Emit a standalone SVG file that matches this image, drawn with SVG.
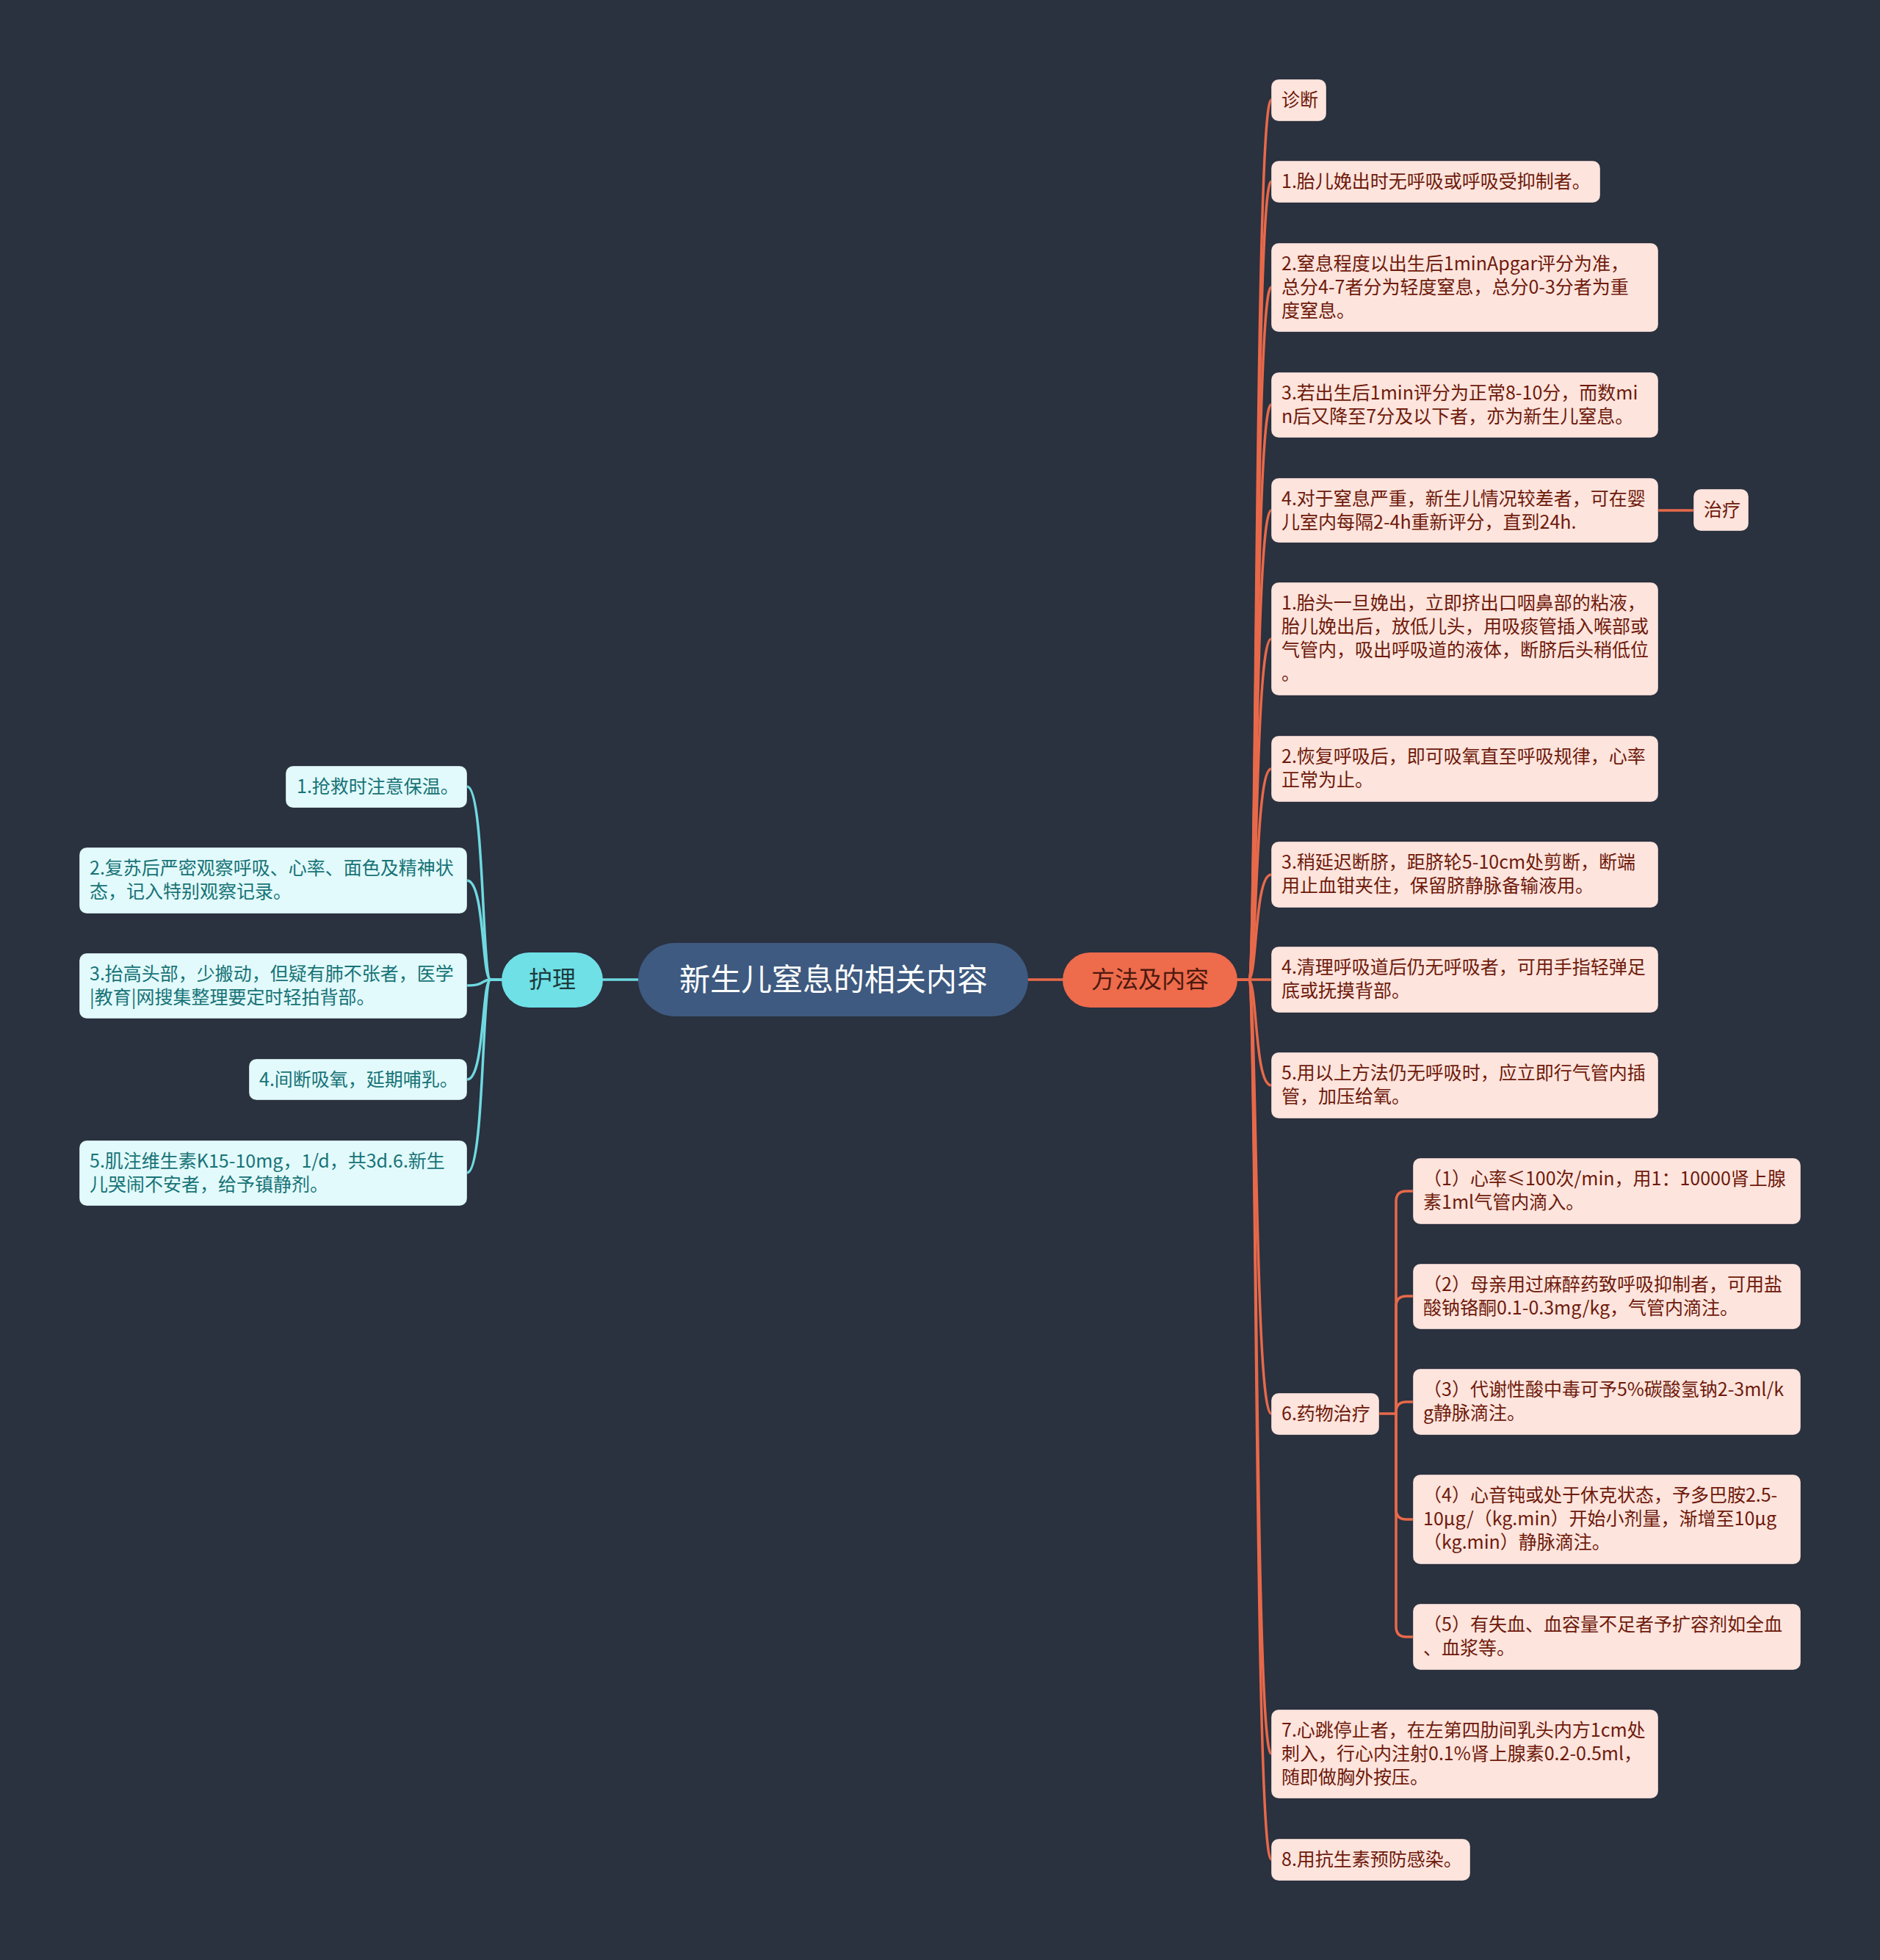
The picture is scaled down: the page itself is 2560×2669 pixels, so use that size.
<svg xmlns="http://www.w3.org/2000/svg" width="2560" height="2669" viewBox="0 0 2560 2669">
<style>
text{font-family:"Noto Sans CJK SC","Noto Sans",sans-serif;}
.rb{fill:#fde4dd;stroke:#1d2430;stroke-opacity:0.35;stroke-width:1}
.rt{fill:#6e1a0b;font-size:25px}
.lb{fill:#e2fafb;stroke:#1d2430;stroke-opacity:0.35;stroke-width:1}
.lt{fill:#177377;font-size:25px}
.oc{fill:none;stroke:#e8694a;stroke-width:3.5;stroke-linecap:round}
.cc{fill:none;stroke:#6fd9e0;stroke-width:3.5;stroke-linecap:round}
</style>
<rect width="2560" height="2669" fill="#2a313f"/>
<g id="connectors">
<line class="cc" x1="821" y1="1334" x2="869" y2="1334"/>
<line class="oc" x1="1400" y1="1334" x2="1447" y2="1334"/>
<path class="cc" d="M683 1334 L668 1334 C656 1334 660 1071 636 1071"/>
<path class="cc" d="M683 1334 L668 1334 C656 1334 660 1199 636 1199"/>
<path class="cc" d="M683 1334 L668 1334 C656 1334 660 1342 636 1342"/>
<path class="cc" d="M683 1334 L668 1334 C656 1334 660 1470 636 1470"/>
<path class="cc" d="M683 1334 L668 1334 C656 1334 660 1597 636 1597"/>
<path class="oc" d="M1685 1334 L1700 1334 C1712 1334 1708 136 1731 136"/>
<path class="oc" d="M1685 1334 L1700 1334 C1712 1334 1708 247 1731 247"/>
<path class="oc" d="M1685 1334 L1700 1334 C1712 1334 1708 391 1731 391"/>
<path class="oc" d="M1685 1334 L1700 1334 C1712 1334 1708 551 1731 551"/>
<path class="oc" d="M1685 1334 L1700 1334 C1712 1334 1708 695 1731 695"/>
<path class="oc" d="M1685 1334 L1700 1334 C1712 1334 1708 870 1731 870"/>
<path class="oc" d="M1685 1334 L1700 1334 C1712 1334 1708 1047 1731 1047"/>
<path class="oc" d="M1685 1334 L1700 1334 C1712 1334 1708 1191 1731 1191"/>
<path class="oc" d="M1685 1334 L1731 1334"/>
<path class="oc" d="M1685 1334 L1700 1334 C1712 1334 1708 1478 1731 1478"/>
<path class="oc" d="M1685 1334 L1700 1334 C1712 1334 1708 1925 1731 1925"/>
<path class="oc" d="M1685 1334 L1700 1334 C1712 1334 1708 2388 1731 2388"/>
<path class="oc" d="M1685 1334 L1700 1334 C1712 1334 1708 2532 1731 2532"/>
<line class="oc" x1="2258" y1="695" x2="2306" y2="695"/>
<path class="oc" d="M1878 1925 L1901 1925"/>
<path class="oc" d="M1901 1925 L1901 1636 Q1901 1622 1915 1622 L1924 1622"/>
<path class="oc" d="M1901 1925 L1901 1779 Q1901 1765 1915 1765 L1924 1765"/>
<path class="oc" d="M1901 1925 L1901 1923 Q1901 1909 1915 1909 L1924 1909"/>
<path class="oc" d="M1901 1925 L1901 2055 Q1901 2069 1915 2069 L1924 2069"/>
<path class="oc" d="M1901 1925 L1901 2215 Q1901 2229 1915 2229 L1924 2229"/>
</g>
<g id="root">
<rect x="869" y="1284" width="531" height="100" rx="50" fill="#3e5a80"/>
<text x="1135" y="1349" font-size="42" fill="#ffffff" text-anchor="middle">新生儿窒息的相关内容</text>
</g>
<g id="huli">
<rect x="683" y="1297" width="138" height="75" rx="37.5" fill="#6fe0e6"/>
<text x="752" y="1345" font-size="32" fill="#1d3a3d" text-anchor="middle">护理</text>
</g>
<g id="fangfa">
<rect x="1447" y="1297" width="238" height="75" rx="37.5" fill="#ee6b4c"/>
<text x="1566" y="1345" font-size="32" fill="#4a190e" text-anchor="middle">方法及内容</text>
</g>
<g id="l1"><rect class="lb" x="389" y="1043" width="247" height="57" rx="10"/><text class="lt" x="404" y="1080">1.抢救时注意保温。</text></g>
<g id="l2"><rect class="lb" x="108" y="1154" width="528" height="90" rx="10"/><text class="lt" x="122" y="1191">2.复苏后严密观察呼吸、心率、面色及精神状</text><text class="lt" x="122" y="1223">态，记入特别观察记录。</text></g>
<g id="l3"><rect class="lb" x="108" y="1298" width="528" height="89" rx="10"/><text class="lt" x="122" y="1335">3.抬高头部，少搬动，但疑有肺不张者，医学</text><text class="lt" x="122" y="1367">|教育|网搜集整理要定时轻拍背部。</text></g>
<g id="l4"><rect class="lb" x="339" y="1442" width="297" height="56" rx="10"/><text class="lt" x="353" y="1479">4.间断吸氧，延期哺乳。</text></g>
<g id="l5"><rect class="lb" x="108" y="1553" width="528" height="89" rx="10"/><text class="lt" x="122" y="1590">5.肌注维生素K15-10mg，1/d，共3d.6.新生</text><text class="lt" x="122" y="1622">儿哭闹不安者，给予镇静剂。</text></g>
<g id="zhenduan"><rect class="rb" x="1731" y="108" width="75" height="57" rx="10"/><text class="rt" x="1745" y="145">诊断</text></g>
<g id="d1"><rect class="rb" x="1731" y="219" width="448" height="57" rx="10"/><text class="rt" x="1745" y="256">1.胎儿娩出时无呼吸或呼吸受抑制者。</text></g>
<g id="d2"><rect class="rb" x="1731" y="331" width="527" height="121" rx="10"/><text class="rt" x="1745" y="368">2.窒息程度以出生后1minApgar评分为准，</text><text class="rt" x="1745" y="400">总分4-7者分为轻度窒息，总分0-3分者为重</text><text class="rt" x="1745" y="432">度窒息。</text></g>
<g id="d3"><rect class="rb" x="1731" y="507" width="527" height="89" rx="10"/><text class="rt" x="1745" y="544">3.若出生后1min评分为正常8-10分，而数mi</text><text class="rt" x="1745" y="576">n后又降至7分及以下者，亦为新生儿窒息。</text></g>
<g id="d4"><rect class="rb" x="1731" y="651" width="527" height="88" rx="10"/><text class="rt" x="1745" y="688">4.对于窒息严重，新生儿情况较差者，可在婴</text><text class="rt" x="1745" y="720">儿室内每隔2-4h重新评分，直到24h.</text></g>
<g id="zhiliao"><rect class="rb" x="2306" y="666" width="75" height="57" rx="10"/><text class="rt" x="2320" y="703">治疗</text></g>
<g id="t1"><rect class="rb" x="1731" y="793" width="527" height="154" rx="10"/><text class="rt" x="1745" y="830">1.胎头一旦娩出，立即挤出口咽鼻部的粘液，</text><text class="rt" x="1745" y="862">胎儿娩出后，放低儿头，用吸痰管插入喉部或</text><text class="rt" x="1745" y="894">气管内，吸出呼吸道的液体，断脐后头稍低位</text><text class="rt" x="1745" y="926">。</text></g>
<g id="t2"><rect class="rb" x="1731" y="1002" width="527" height="90" rx="10"/><text class="rt" x="1745" y="1039">2.恢复呼吸后，即可吸氧直至呼吸规律，心率</text><text class="rt" x="1745" y="1071">正常为止。</text></g>
<g id="t3"><rect class="rb" x="1731" y="1146" width="527" height="90" rx="10"/><text class="rt" x="1745" y="1183">3.稍延迟断脐，距脐轮5-10cm处剪断，断端</text><text class="rt" x="1745" y="1215">用止血钳夹住，保留脐静脉备输液用。</text></g>
<g id="t4"><rect class="rb" x="1731" y="1289" width="527" height="90" rx="10"/><text class="rt" x="1745" y="1326">4.清理呼吸道后仍无呼吸者，可用手指轻弹足</text><text class="rt" x="1745" y="1358">底或抚摸背部。</text></g>
<g id="t5"><rect class="rb" x="1731" y="1433" width="527" height="90" rx="10"/><text class="rt" x="1745" y="1470">5.用以上方法仍无呼吸时，应立即行气管内插</text><text class="rt" x="1745" y="1502">管，加压给氧。</text></g>
<g id="t6"><rect class="rb" x="1731" y="1897" width="147" height="57" rx="10"/><text class="rt" x="1745" y="1934">6.药物治疗</text></g>
<g id="s1"><rect class="rb" x="1924" y="1577" width="528" height="90" rx="10"/><text class="rt" x="1938" y="1614">（1）心率≤100次/min，用1：10000肾上腺</text><text class="rt" x="1938" y="1646">素1ml气管内滴入。</text></g>
<g id="s2"><rect class="rb" x="1924" y="1721" width="528" height="89" rx="10"/><text class="rt" x="1938" y="1758">（2）母亲用过麻醉药致呼吸抑制者，可用盐</text><text class="rt" x="1938" y="1790">酸钠铬酮0.1-0.3mg/kg，气管内滴注。</text></g>
<g id="s3"><rect class="rb" x="1924" y="1864" width="528" height="90" rx="10"/><text class="rt" x="1938" y="1901">（3）代谢性酸中毒可予5%碳酸氢钠2-3ml/k</text><text class="rt" x="1938" y="1933">g静脉滴注。</text></g>
<g id="s4"><rect class="rb" x="1924" y="2008" width="528" height="122" rx="10"/><text class="rt" x="1938" y="2045">（4）心音钝或处于休克状态，予多巴胺2.5-</text><text class="rt" x="1938" y="2077">10μg/（kg.min）开始小剂量，渐增至10μg</text><text class="rt" x="1938" y="2109">（kg.min）静脉滴注。</text></g>
<g id="s5"><rect class="rb" x="1924" y="2184" width="528" height="90" rx="10"/><text class="rt" x="1938" y="2221">（5）有失血、血容量不足者予扩容剂如全血</text><text class="rt" x="1938" y="2253">、血浆等。</text></g>
<g id="t7"><rect class="rb" x="1731" y="2328" width="527" height="121" rx="10"/><text class="rt" x="1745" y="2365">7.心跳停止者，在左第四肋间乳头内方1cm处</text><text class="rt" x="1745" y="2397">刺入，行心内注射0.1%肾上腺素0.2-0.5ml，</text><text class="rt" x="1745" y="2429">随即做胸外按压。</text></g>
<g id="t8"><rect class="rb" x="1731" y="2504" width="271" height="57" rx="10"/><text class="rt" x="1745" y="2541">8.用抗生素预防感染。</text></g>
</svg>
